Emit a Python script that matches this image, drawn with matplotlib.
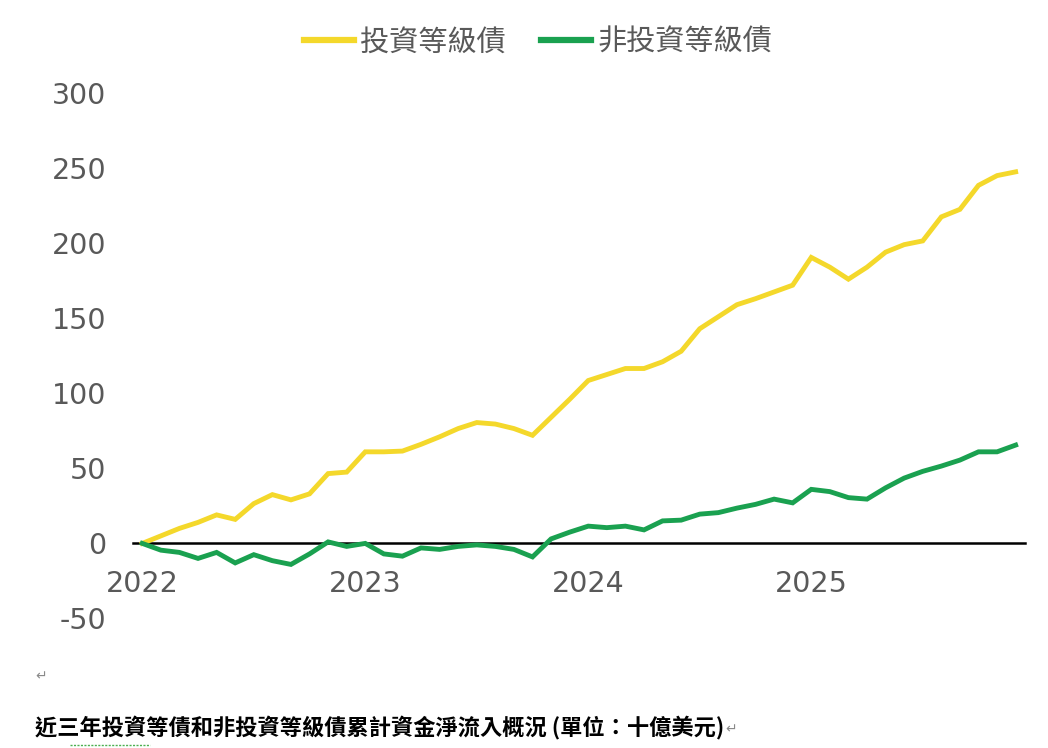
import matplotlib
matplotlib.use("Agg")
import matplotlib.pyplot as plt

plt.rcParams['font.family'] = ['Noto Sans CJK TC', 'DejaVu Sans']

# ---- data (billions USD, cumulative, monthly from Jan 2022) ----
series_names = ["投資等級債", "非投資等級債"]
inv_grade = [0, 5, 10, 14, 19, 16, 26.5, 32.5, 29, 33,
             46.5, 47.5, 61, 61, 61.5, 66, 71, 76.5, 80.5, 79.5,
             76.5, 72, 84, 96, 108.5, 112.5, 116.5, 116.5, 121, 128,
             143, 151, 159, 163, 167.5, 172, 190.5, 184, 176, 184,
             194, 199, 201.5, 217.5, 222.5, 238.5, 245, 247.5]
high_yield = [0, -4.5, -6, -10, -6, -13, -7.5, -11.5, -14, -7,
              1, -2, 0, -7, -8.5, -3, -4, -2, -1, -2,
              -4, -9, 3, 7.5, 11.5, 10.5, 11.5, 9, 15, 15.5,
              19.5, 20.5, 23.5, 26, 29.5, 27, 36, 34.5, 30.5, 29.5,
              37, 43.5, 48, 51.5, 55.5, 61, 61, 65.5]
year_ticks = [0, 12, 24, 36]
year_labels = ["2022", "2023", "2024", "2025"]
y_ticks = [-50, 0, 50, 100, 150, 200, 250, 300]
caption = "近三年投資等債和非投資等級債累計資金淨流入概況 (單位：十億美元)"

yellow = "#F4D82B"
green = "#1AA150"
gray = "#595959"

fig = plt.figure(figsize=(10.48, 7.48), dpi=100)
ax = fig.add_axes([0.1269, 0.1531, 0.8511, 0.7426])

months = list(range(len(inv_grade)))
ax.plot(months, inv_grade, color=yellow, lw=3.5, label=series_names[0],
        zorder=3, solid_joinstyle='miter')
ax.plot(months, high_yield, color=green, lw=3.5, label=series_names[1],
        zorder=3, solid_joinstyle='miter')

ax.set_xlim(-0.5, 47.5)
ax.set_ylim(-60, 310)

for s in ['top', 'right', 'left']:
    ax.spines[s].set_visible(False)
ax.spines['bottom'].set_position(('data', 0))
ax.spines['bottom'].set_color('black')
ax.spines['bottom'].set_linewidth(1.8)
ax.spines['bottom'].set_zorder(2)

ax.set_xticks(year_ticks)
ax.set_xticklabels(year_labels)
ax.set_yticks(y_ticks)
ax.set_yticklabels([str(v) for v in y_ticks])
ax.tick_params(axis='x', length=0, pad=19, labelsize=20.5, labelcolor=gray)
ax.tick_params(axis='y', length=0, pad=19, labelsize=20.5, labelcolor=gray)
for lab in ax.get_xticklabels() + ax.get_yticklabels():
    lab.set_family('DejaVu Sans')

leg = fig.legend(loc='center', bbox_to_anchor=(0.5135, 0.9435), ncol=2,
                 frameon=False, prop={'size': 21, 'weight': 'medium'},
                 handlelength=1.7, handletextpad=0.22, columnspacing=1.2,
                 borderpad=0)
for t in leg.get_texts():
    t.set_color(gray)
for h in leg.get_lines():
    h.set_linewidth(4.5)

# paragraph mark and caption
fig.text(35 / 1048, 1 - 676 / 748, "↵", fontsize=10, color="#8a8a8a",
         va='center', ha='left', family='DejaVu Sans')
cap = fig.text(35 / 1048, 1 - 728 / 748, caption, fontsize=16, color='black',
               va='center', ha='left', fontweight='bold')
fig.canvas.draw()
bb = cap.get_window_extent()
fig.text(bb.x1 / 1048 + 1 / 1048, 1 - 729 / 748, "↵", fontsize=10, color="#8a8a8a",
         va='center', ha='left', family='DejaVu Sans')
fig.add_artist(plt.Line2D([70 / 1048, 150 / 1048], [1 - 745 / 748, 1 - 745 / 748],
                          transform=fig.transFigure, color="#4CAF50", lw=1,
                          linestyle=(0, (1.5, 1))))

fig.savefig("out.png", dpi=100)
